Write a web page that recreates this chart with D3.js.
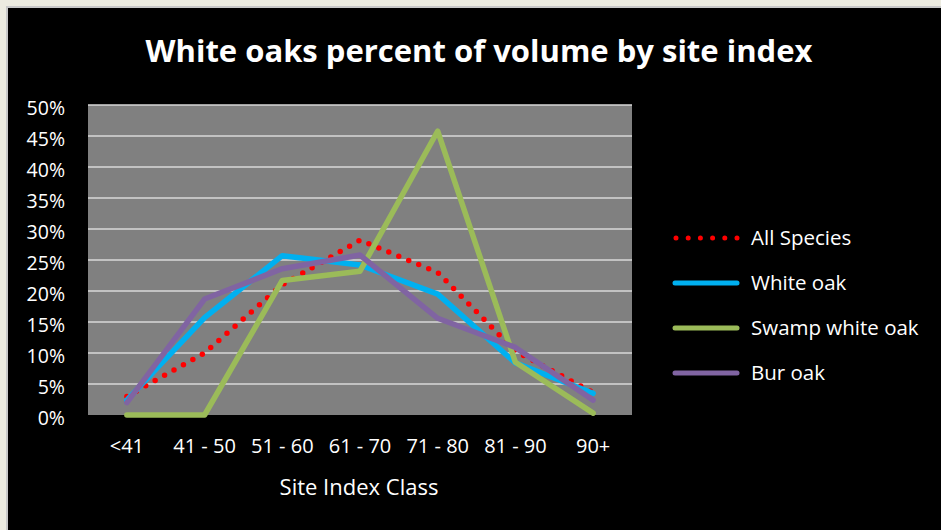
<!DOCTYPE html>
<html>
<head>
<meta charset="utf-8">
<script src="https://cdn.jsdelivr.net/npm/d3@7"></script>
<style>
  body { margin: 0; background: #ecebe0; }
  svg text { font-family: "Open Sans", sans-serif; fill: #ffffff; }
</style>
</head>
<body>
<div id="chart"></div>
<script>
// site index classes on the x axis
const categories = ["<41", "41 - 50", "51 - 60", "61 - 70", "71 - 80", "81 - 90", "90+"];

// percent of volume
const allSpecies   = [3.0, 10.0, 21.0, 28.2, 23.0, 10.3, 3.6];
const whiteOak     = [2.4, 15.7, 25.7, 24.2, 19.5, 8.4, 3.5];
const swampWhite   = [0.0, 0.0, 21.7, 23.2, 45.8, 8.5, 0.3];
const burOak       = [2.0, 18.7, 23.6, 25.8, 15.6, 10.9, 2.4];

const seriesNames  = ["All Species", "White oak", "Swamp white oak", "Bur oak"];
const yTicks       = [0, 5, 10, 15, 20, 25, 30, 35, 40, 45, 50];

const width = 941, height = 530;
const plot = {left: 88, right: 632, top: 105, bottom: 415};

const seriesData = [allSpecies, whiteOak, swampWhite, burOak];
const colors = ["#ff0000", "#00b0f0", "#9bbb59", "#8064a2"];

let svg = d3.select("#chart")
    .append("svg")
    .attr("width", width)
    .attr("height", height);

// frame
svg.append("rect").attr("x", 0).attr("y", 0).attr("width", width).attr("height", height).style("fill", "#ecebe0");
svg.append("rect").attr("x", 6).attr("y", 6).attr("width", width - 6).attr("height", height - 6).style("fill", "#c8c8c8");
svg.append("rect").attr("x", 8).attr("y", 8).attr("width", width - 8).attr("height", height - 8).style("fill", "#000000");

let x = d3.scaleBand()
    .domain(categories)
    .range([plot.left, plot.right]);

let y = d3.scaleLinear()
    .domain([0, 50])
    .range([plot.bottom, plot.top]);

// plot area
svg.append("rect")
    .attr("x", plot.left)
    .attr("y", plot.top)
    .attr("width", plot.right - plot.left)
    .attr("height", plot.bottom - plot.top)
    .style("fill", "#808080");

svg.append("g")
    .selectAll("line")
    .data(yTicks.filter(function(d) { return d > 0; }))
    .enter()
    .append("line")
    .attr("x1", plot.left)
    .attr("x2", plot.right)
    .attr("y1", function(d) { return y(d); })
    .attr("y2", function(d) { return y(d); })
    .style("stroke", "#d9d9d9")
    .style("stroke-width", "1.5px");

// y axis
let yAxis = svg.append("g")
    .attr("transform", "translate(" + plot.left + ",0)")
    .call(d3.axisLeft(y).tickValues(yTicks).tickSize(0).tickPadding(23)
        .tickFormat(function(d) { return d + "%"; }));
yAxis.select(".domain").remove();
yAxis.selectAll("text")
    .attr("dy", "0.5em")
    .style("font-size", "19.5px")
    .style("font-family", "'Open Sans', sans-serif")
    .style("fill", "#ffffff");

// x axis
let xAxis = svg.append("g")
    .attr("transform", "translate(0," + plot.bottom + ")")
    .call(d3.axisBottom(x).tickSize(0).tickPadding(24));
xAxis.select(".domain").remove();
xAxis.selectAll("text")
    .style("font-size", "20px")
    .style("font-family", "'Open Sans', sans-serif")
    .style("fill", "#ffffff");

// series lines
let line = d3.line()
    .x(function(d, i) { return x(categories[i]) + x.bandwidth() / 2; })
    .y(function(d) { return y(d); });

seriesData.forEach(function(values, i) {
    let path = svg.append("path")
        .datum(values)
        .attr("d", line)
        .style("fill", "none")
        .style("stroke", colors[i])
        .style("stroke-width", "5.5px")
        .style("stroke-linejoin", "round")
        .style("stroke-linecap", "round");
    if (i === 0) path.style("stroke-dasharray", "0,10.8");
});

// title
svg.append("text")
    .attr("x", 479)
    .attr("y", 62)
    .attr("text-anchor", "middle")
    .style("font-size", "31px")
    .style("font-weight", "bold")
    .text("White oaks percent of volume by site index");

// x axis title
svg.append("text")
    .attr("x", 359)
    .attr("y", 495)
    .attr("text-anchor", "middle")
    .style("font-size", "22px")
    .text("Site Index Class");

// legend
let legend = svg.append("g")
    .selectAll("g")
    .data(seriesNames)
    .enter()
    .append("g")
    .attr("transform", function(d, i) { return "translate(0," + (238 + i * 45) + ")"; });

legend.append("line")
    .attr("x1", function(d, i) { return i === 0 ? 676 : 675; })
    .attr("x2", 737)
    .attr("y1", 0)
    .attr("y2", 0)
    .style("stroke", function(d, i) { return colors[i]; })
    .style("stroke-width", "5px")
    .style("stroke-linecap", "round")
    .style("stroke-dasharray", function(d, i) { return i === 0 ? "0,12.2" : null; });

legend.append("text")
    .attr("x", 751)
    .attr("y", 0)
    .attr("dy", "0.35em")
    .style("font-size", "20.5px")
    .text(function(d) { return d; });
</script>
</body>
</html>
